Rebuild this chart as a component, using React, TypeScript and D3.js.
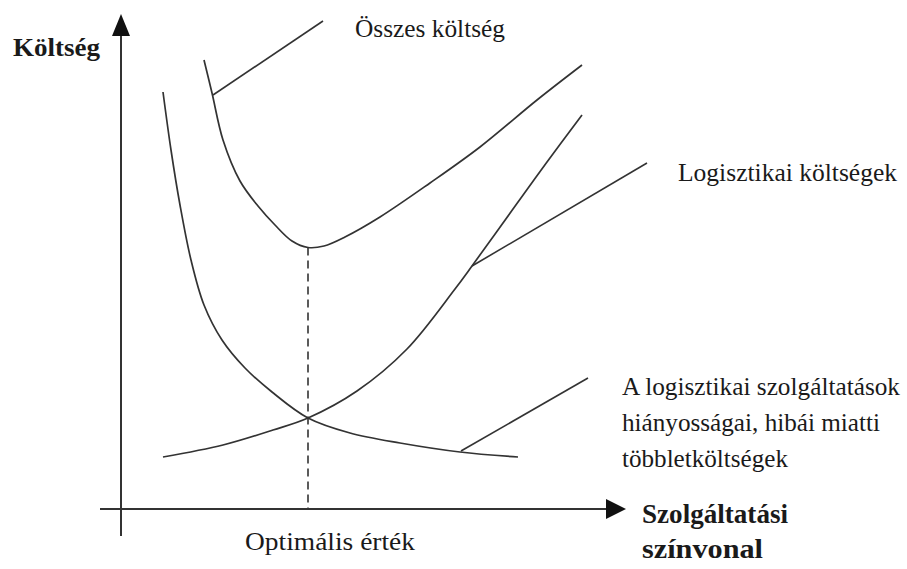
import React from "react";
import * as d3 from "d3";

// Curves in chart units (x: service level 0..100, y: cost 0..100)
const deficiencyX = [8.4, 10.0, 11.8, 14.0, 16.6, 20.2, 24.8, 30.2, 37.4, 45.8, 55.8, 67.8, 79.4];
const deficiencyY = [83.4, 71.8, 60.8, 49.8, 40.8, 33.8, 28.2, 23.4, 18.2, 15.2, 13.2, 11.4, 10.4];

const logisticX = [8.4, 20.4, 30.4, 37.4, 47.2, 57.2, 66.8, 70.2, 78.4, 85.2, 92.2];
const logisticY = [10.4, 12.8, 15.8, 18.2, 23.6, 32.0, 44.0, 48.6, 60.0, 69.4, 78.8];

const totalX = [16.6, 18.2, 20.4, 23.8, 27.4, 30.8, 34.2, 37.4, 40.6, 44.8, 51.8, 61.8, 71.8, 83.2, 92.2];
const totalY = [89.8, 83.2, 73.8, 65.6, 60.6, 56.8, 53.6, 52.3, 52.6, 54.4, 58.4, 65.2, 72.4, 81.8, 88.8];

const optimumX = 37.4;
const optimumTotal = 52.3;

// Leader lines: [x1, y1, x2, y2]
const leaderTotal = [18.4, 82.8, 40.4, 97.6];
const leaderLogistic = [70.2, 48.6, 105.2, 69.2];
const leaderDeficiency = [68.0, 11.6, 93.4, 26.2];

const yAxisRange = [-5.4, 99];
const xAxisRange = [-4.2, 101];

const yAxisTitle = "Költség";
const xAxisTitle = ["Szolgáltatási", "színvonal"];
const optimumLabel = "Optimális érték";
const totalLabel = "Összes költség";
const logisticLabel = "Logisztikai költségek";
const deficiencyLabel = ["A logisztikai szolgáltatások", "hiányosságai, hibái miatti", "többletköltségek"];

const W = 907;
const H = 569;

export default function App() {
  const x = d3.scaleLinear().domain([0, 100]).range([121, 621]);
  const y = d3.scaleLinear().domain([0, 100]).range([509, 9]);

  const line = d3
    .line<[number, number]>()
    .x((d) => x(d[0]))
    .y((d) => y(d[1]))
    .curve(d3.curveCatmullRom.alpha(0.5));

  const zip = (a: number[], b: number[]) => a.map((v, i) => [v, b[i]] as [number, number]);

  const font = "'Liberation Serif', 'Times New Roman', serif";
  const stroke = "#333";
  const textFill = "#1a1a1a";

  const ax = x(0);
  const ay = y(0);
  const yTop = y(yAxisRange[1]);
  const xRight = x(xAxisRange[1]);

  const leader = (l: number[], key: string) => (
    <line key={key} x1={x(l[0])} y1={y(l[1])} x2={x(l[2])} y2={y(l[3])} stroke={stroke} strokeWidth={1.6} />
  );

  return (
    <svg
      width={W}
      height={H}
      style={{ position: "absolute", left: 0, top: 0, background: "#fff", display: "block" }}
    >
      <rect width={W} height={H} fill="#fff" />
      {/* axes */}
      <line x1={ax} y1={y(yAxisRange[0])} x2={ax} y2={yTop + 18} stroke={stroke} strokeWidth={2} />
      <path d={`M${ax},${yTop} L${ax - 9},${yTop + 22} L${ax + 9},${yTop + 22} Z`} fill="#111" />
      <line x1={x(xAxisRange[0])} y1={ay} x2={xRight - 16} y2={ay} stroke={stroke} strokeWidth={2} />
      <path d={`M${xRight},${ay} L${xRight - 20},${ay - 10} L${xRight - 20},${ay + 10} Z`} fill="#111" />

      {/* optimum dashed */}
      <line
        x1={x(optimumX)}
        y1={y(optimumTotal)}
        x2={x(optimumX)}
        y2={ay}
        stroke={stroke}
        strokeWidth={1.6}
        strokeDasharray="8,5"
      />

      {/* curves */}
      <path d={line(zip(deficiencyX, deficiencyY)) || ""} fill="none" stroke={stroke} strokeWidth={1.7} />
      <path d={line(zip(logisticX, logisticY)) || ""} fill="none" stroke={stroke} strokeWidth={1.7} />
      <path d={line(zip(totalX, totalY)) || ""} fill="none" stroke={stroke} strokeWidth={1.7} />

      {leader(leaderTotal, "lt")}
      {leader(leaderLogistic, "ll")}
      {leader(leaderDeficiency, "ld")}

      {/* texts */}
      <g fontFamily={font} fill={textFill}>
        <text x={13} y={56} fontSize={26} fontWeight="bold" textLength={87} lengthAdjust="spacingAndGlyphs">
          {yAxisTitle}
        </text>
        <text x={355} y={37} fontSize={25.5} textLength={150} lengthAdjust="spacingAndGlyphs">
          {totalLabel}
        </text>
        <text x={678} y={181} fontSize={25.5} textLength={219} lengthAdjust="spacingAndGlyphs">
          {logisticLabel}
        </text>
        <text x={622} y={395} fontSize={25.5} textLength={278} lengthAdjust="spacingAndGlyphs">
          {deficiencyLabel[0]}
        </text>
        <text x={622} y={431} fontSize={25.5} textLength={258} lengthAdjust="spacingAndGlyphs">
          {deficiencyLabel[1]}
        </text>
        <text x={622} y={467} fontSize={25.5} textLength={166} lengthAdjust="spacingAndGlyphs">
          {deficiencyLabel[2]}
        </text>
        <text x={245} y={550} fontSize={26} textLength={170} lengthAdjust="spacingAndGlyphs">
          {optimumLabel}
        </text>
        <text x={642} y={523} fontSize={27} fontWeight="bold" textLength={146} lengthAdjust="spacingAndGlyphs">
          {xAxisTitle[0]}
        </text>
        <text x={642} y={558} fontSize={27} fontWeight="bold" textLength={121} lengthAdjust="spacingAndGlyphs">
          {xAxisTitle[1]}
        </text>
      </g>
    </svg>
  );
}
